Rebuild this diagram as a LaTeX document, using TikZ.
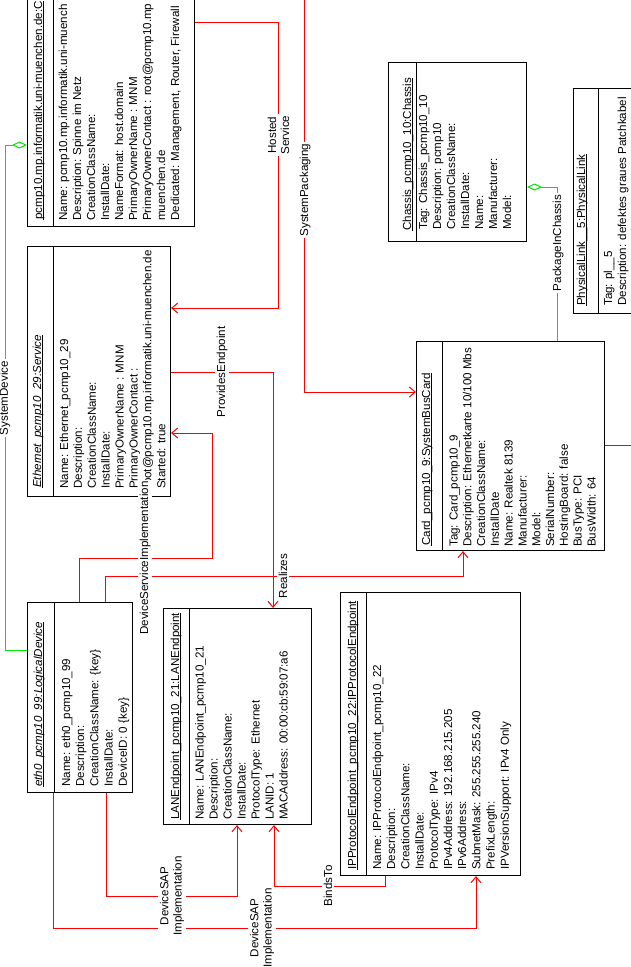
\documentclass[tikz,border=0pt]{standalone}
\usepackage{fontspec}
\setmainfont{Liberation Sans}
\usetikzlibrary{arrows.meta}
\definecolor{lgreen}{RGB}{0,230,0}
\newcommand\dfont{\fontsize{11.6}{13.2}\selectfont}
\newcommand\attrs[4]{\foreach \t [count=\i from 0] in {#4} {\node[attr] at ({#1+#3*\i},#2) {\t};}}
\tikzset{
  box/.style={draw=black, line width=1pt, inner sep=0pt},
  boxl/.style={draw=black, line width=1pt},
  attr/.style={rotate=90, anchor=base west, inner sep=0pt, font=\dfont},
  ttl/.style={attr},
  ttli/.style={attr, font=\dfont\itshape},
  uline/.style={line width=0.8pt},
  rel/.style={draw=red, line width=1pt, -{Straight Barb[length=6pt,width=10pt]}},
  reln/.style={draw=red, line width=1pt},
  aggr/.style={draw=lgreen, line width=1pt, {Diamond[open,length=15pt,width=7pt]}-},
  lbl/.style={rotate=90, fill=white, inner sep=1.5pt, align=center, font=\dfont}
}
\begin{document}
\begin{tikzpicture}[x=1pt,y=-1pt]
\useasboundingbox (0,0) rectangle (631,967);
\clip (0,0) rectangle (631,967);

% ComputerSystem (runs past the top edge)
\node[box, anchor=north west, minimum width=167pt, minimum height=306pt] (cs) at (27,-80) {};
\draw[boxl] (53,0 |- cs.north) -- (53,0 |- cs.south);
\node[ttl] (cst) at (42,220) {pcmp10.mp.informatik.uni-muenchen.de:C};
\draw[uline] ([xshift=1.5pt]cst.base west) -- ([xshift=1.5pt]cst.base east);
\attrs{67}{221}{14}{Name: pcmp10.mp.informatik.uni-muench, Description: Spinne im Netz, CreationClassName:, InstallDate:, NameFormat: host.domain, PrimaryOwnerName : MNM, PrimaryOwnerContact : root@pcmp10.mp, muenchen.de, {Dedicated: Management, Router, Firewall}}

% Chassis
\node[box, anchor=north west, minimum width=138pt, minimum height=179pt] (chs) at (388,62) {};
\draw[boxl] (416,0 |- chs.north) -- (416,0 |- chs.south);
\node[ttl] (chst) at (411,231) {Chassis\_pcmp10\_10:Chassis};
\draw[uline] ([xshift=1.5pt]chst.base west) -- ([xshift=1.5pt]chst.base east);
\attrs{427}{230}{14}{Tag: Chassis\_pcmp10\_10, Description: pcmp10, CreationClassName:, InstallDate:, Name:, Manufacturer:, Model:}

% PhysicalLink (runs past the right edge)
\node[box, anchor=north west, minimum width=100pt, minimum height=225pt] (pl) at (573,88) {};
\draw[boxl] (598,0 |- pl.north) -- (598,0 |- pl.south);
\node[ttl] (plt) at (585,306) {PhysicalLink\_\_5:PhysicalLink};
\draw[uline] ([xshift=1.5pt]plt.base west) -- ([xshift=1.5pt]plt.base east);
\attrs{612}{306}{14}{Tag: pl\_\_5, Description: defektes graues Patchkabel}

% Service
\node[box, anchor=north west, minimum width=143pt, minimum height=250pt] (svc) at (27,246) {};
\draw[boxl] (53,0 |- svc.north) -- (53,0 |- svc.south);
\node[ttli] (svct) at (41,488) {Ethernet\_pcmp10\_29:Service};
\draw[uline] ([xshift=1.5pt]svct.base west) -- ([xshift=1.5pt]svct.base east);
\attrs{68}{489}{13.9}{Name: Ethernet\_pcmp10\_29, Description:, CreationClassName:, InstallDate:, PrimaryOwnerName : MNM, PrimaryOwnerContact :, root@pcmp10.mp.informatik.uni-muenchen.de, Started: true}

% SystemBusCard
\node[box, anchor=north west, minimum width=188pt, minimum height=209pt] (card) at (416,341) {};
\draw[boxl] (442,0 |- card.north) -- (442,0 |- card.south);
\node[ttl] (cardt) at (430,546) {Card\_pcmp10\_9:SystemBusCard};
\draw[uline] ([xshift=1.5pt]cardt.base west) -- ([xshift=1.5pt]cardt.base east);
\attrs{457.5}{547}{13.8}{Tag: Card\_pcmp10\_9, Description: Ethernetkarte 10/100 Mbs, CreationClassName:, InstallDate, Name: Realtek 8139, Manufacturer:, Model:, SerialNumber:, HostingBoard: false, BusType: PCI, BusWidth: 64}

% LogicalDevice
\node[box, anchor=north west, minimum width=105pt, minimum height=190pt] (eth) at (27,602) {};
\draw[boxl] (54,0 |- eth.north) -- (54,0 |- eth.south);
\node[ttli] (etht) at (42,787) {eth0\_pcmp10\_99:LogicalDevice};
\draw[uline] ([xshift=1.5pt]etht.base west) -- ([xshift=1.5pt]etht.base east);
\attrs{70}{787}{14.2}{Name: eth0\_pcmp10\_99, Description:, CreationClassName: \{key\}, InstallDate:, DeviceID: 0 \{key\}}

% LANEndpoint
\node[box, anchor=north west, minimum width=148pt, minimum height=216pt] (lan) at (163,608) {};
\draw[boxl] (189,0 |- lan.north) -- (189,0 |- lan.south);
\node[ttl] (lant) at (179,820) {LANEndpoint\_pcmp10\_21:LANEndpoint};
\draw[uline] ([xshift=1.5pt]lant.base west) -- ([xshift=1.5pt]lant.base east);
\attrs{203.5}{820}{14}{Name: LANEndpoint\_pcmp10\_21, Description:, CreationClassName:, InstallDate:, ProtocolType: Ethernet, LANID: 1, MACAddress: 00:00:cb:59:07:a6}

% IPProtocolEndpoint
\node[box, anchor=north west, minimum width=180pt, minimum height=283pt] (ipe) at (340,592) {};
\draw[boxl] (366,0 |- ipe.north) -- (366,0 |- ipe.south);
\node[ttl] (ipet) at (356,870) {IPProtocolEndpoint\_pcmp10\_22:IPProtocolEndpoint};
\draw[uline] ([xshift=1.5pt]ipet.base west) -- ([xshift=1.5pt]ipet.base east);
\attrs{381}{870}{14.2}{Name: IPProtocolEndpoint\_pcmp10\_22, Description:, CreationClassName:, InstallDate:, ProtocolType: IPv4, IPv4Address: 192.168.215.205, IPv6Address:, SubnetMask: 255.255.255.240, PrefixLength:, IPVersionSupport: IPv4 Only}

% red connectors
\draw[rel] (cs.east |- 0,22) -- (278,22) -- (278,308) -- (svc.east |- 0,308);
\draw[rel] (cs.east |- 0,-30) -- (304,-30) -- (304,392) -- (card.west |- 0,392);
\draw[rel] (svc.east |- 0,372) -- (273,372) -- (273,0 |- lan.north);
\draw[rel] (79,0 |- eth.north) -- (79,558) -- (212,558) -- (212,433) -- (svc.east |- 0,433);
\draw[rel] (105,0 |- eth.north) -- (105,576) -- (463,576) -- (463,0 |- card.south);
\draw[rel] (106,0 |- eth.south) -- (106,896) -- (237,896) -- (237,0 |- lan.south);
\draw[rel] (385,0 |- ipe.south) -- (385,886) -- (274,886) -- (274,0 |- lan.south);
\draw[rel] (53,0 |- eth.south) -- (53,928) -- (476,928) -- (476,0 |- ipe.south);
\coordinate (offr) at (650,445);
\draw[reln] (card.east |- 0,445) -- (offr);

% green connectors
\draw[aggr] (cs.west |- 0,145) -- (5,145) -- (5,650) -- (eth.west |- 0,650);
\draw[aggr] (chs.east |- 0,187) -- (557,187) -- (557,0 |- card.north);

% labels
\node[lbl] (lhs) at (278.5,135) {Hosted\\Service};
\node[lbl] (lsp) at (305,190) {SystemPackaging};
\node[lbl] (lpe) at (222,372) {ProvidesEndpoint};
\node[lbl] (ldsi) at (145,558) {DeviceServiceImplementation};
\node[lbl] (lre) at (283,576) {Realizes};
\node[lbl] (lds1) at (172,896) {DeviceSAP\\Implementation};
\node[lbl] (lbt) at (328,886) {BindsTo};
\node[lbl] (lds2) at (262,928) {DeviceSAP\\Implementation};
\node[lbl] (lsd) at (5,398) {SystemDevice};
\node[lbl] (lpc) at (558,243) {PackageInChassis};
\end{tikzpicture}
\end{document}
